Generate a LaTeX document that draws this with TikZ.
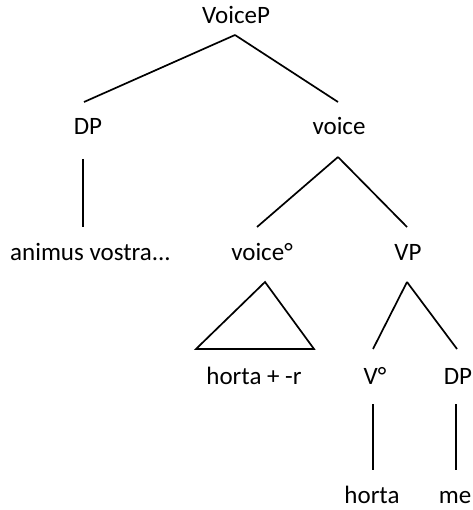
\documentclass[tikz,border=0pt]{standalone}
\usepackage{fontspec}
\setmainfont{Carlito}
\usetikzlibrary{calc}
\begin{document}
\begin{tikzpicture}[x=1pt,y=-1pt,
  lbl/.style={anchor=base,inner sep=0pt,outer sep=0pt,font=\fontsize{25}{29}\selectfont,text height=33pt,text depth=22pt},
  edge/.style={line width=1.7pt}]
\useasboundingbox (0,0) rectangle (472,510);
\node[lbl,text depth=11pt] (voicep) at (236,24) {VoiceP};
\node[lbl] (dp1) at (88,135) {DP};
\node[lbl] (voice) at (339,135) {voice};
\node[lbl] (animus) at (90.5,260) {animus vostra...};
\node[lbl] (voiceo) at (262,260) {voice°};
\node[lbl] (vp) at (408,260) {VP};
\node[lbl] (hr) at (254,384) {horta + -r};
\node[lbl] (v) at (375,384) {V°};
\node[lbl] (dp2) at (458,384) {DP};
\node[lbl] (horta) at (372,503) {horta};
\node[lbl] (me) at (455,503) {me};
\draw[edge] ($(voicep.south)+(-1,0)$) -- ($(dp1.north)+(-4,0)$);
\draw[edge] ($(voicep.south)+(-1,0)$) -- ($(voice.north)+(-1,0)$);
\draw[edge] ($(dp1.south)+(-5,2)$) -- ($(animus.north)+(-7.5,0)$);
\draw[edge] ($(voice.south)+(-1,0)$) -- ($(voiceo.north)+(-5,0)$);
\draw[edge] ($(voice.south)+(-1,0)$) -- ($(vp.north)+(-1,0)$);
\draw[edge,line join=miter] ($(voiceo.south)+(3,0)$) -- ($(hr.north)+(-58,-2)$) -- ($(hr.north)+(60,-2)$) -- cycle;
\draw[edge] ($(vp.south)+(-1,0)$) -- ($(v.north)+(-2,-2)$);
\draw[edge] ($(vp.south)+(-1,0)$) -- ($(dp2.north)+(-1,-2)$);
\draw[edge] ($(v.south)+(-2,-2)$) -- ($(horta.north)+(1,0)$);
\draw[edge] ($(dp2.south)+(-2,-2)$) -- ($(me.north)+(1,0)$);
\end{tikzpicture}
\end{document}
